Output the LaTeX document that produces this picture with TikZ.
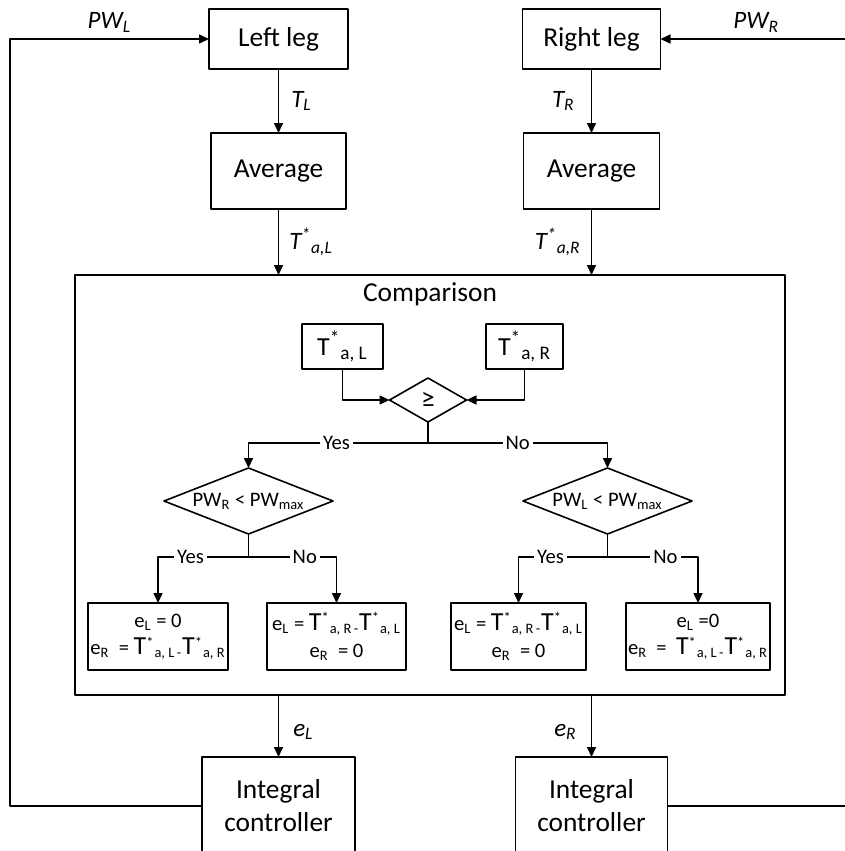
\documentclass[tikz,border=0pt]{standalone}
\usepackage{fontspec}
\setmainfont{Carlito}
\usetikzlibrary{arrows.meta,shapes.geometric}
\newcommand{\Tstar}[1]{{\fontsize{13}{16}\selectfont T}\textsuperscript{*}\textsubscript{#1}}
\newcommand{\sub}[2]{#1\textsubscript{#2}}
\begin{document}
\begin{tikzpicture}[x=.5pt,y=-.5pt,line width=.8pt,line join=round,
	>={Triangle[length=5pt,width=4.5pt]},
	font=\fontsize{13.7}{16.5}\selectfont,
	blok/.style={draw,inner sep=0pt,outer sep=0pt,align=center},
	ruit/.style={draw,diamond,aspect=2.5,inner sep=0pt,outer sep=0pt},
	klein/.style={font=\fontsize{10.3}{13.5}\selectfont},
	lbl/.style={font=\fontsize{12.5}{14}\selectfont\itshape,inner sep=1pt},
	keuze/.style={klein,fill=white,inner sep=1.5pt}]
	\useasboundingbox (0,0) rectangle (845,851);
	\clip (0,0) rectangle (845,851);
	% legs and averaging
	\node[blok,minimum width=69.5pt,minimum height=30pt] (legL) at (278.5,39) {Left leg};
	\node[blok,minimum width=69pt,minimum height=30pt] (legR) at (591.5,39) {Right leg};
	\node[blok,minimum width=67.5pt,minimum height=38pt] (avgL) at (278.5,171) {Average};
	\node[blok,minimum width=68pt,minimum height=38pt] (avgR) at (591.5,171) {Average};
	% comparison block
	\node[blok,minimum width=355pt,minimum height=210pt] (cmp) at (430,485) {};
	\node (cmpT) at (430,294) {Comparison};
	\node[blok,minimum width=40.5pt,minimum height=22.5pt] (tL) at (342.5,346.5) {\Tstar{a, L}};
	\node[blok,minimum width=38.5pt,minimum height=22.5pt] (tR) at (524.5,346.5) {\Tstar{a, R}};
	\node[ruit,minimum width=38.5pt,minimum height=22pt] (geq) at (428,400) {≥};
	\node[ruit,klein,minimum width=84.5pt,minimum height=33pt] (dL) at (248.5,501) {\sub{PW}{R} < \sub{PW}{max}};
	\node[ruit,klein,minimum width=84.5pt,minimum height=33pt] (dR) at (607.5,501) {\sub{PW}{L} < \sub{PW}{max}};
	\node[blok,klein,minimum width=70pt,minimum height=33.5pt] (b1) at (158,636.5)
		{\sub{e}{L} = 0\\\sub{e}{R}\ \ = \Tstar{a, L\,-}\Tstar{a, R}};
	\node[blok,klein,minimum width=69.5pt,minimum height=33.5pt] (b2) at (336.5,636.5)
		{\sub{e}{L} = \Tstar{a, R\,-}\Tstar{a, L}\\\sub{e}{R}\ \ = 0};
	\node[blok,klein,minimum width=67.5pt,minimum height=33.5pt] (b3) at (518.5,636.5)
		{\sub{e}{L} = \Tstar{a, R\,-}\Tstar{a, L}\\\sub{e}{R}\ \ = 0};
	\node[blok,klein,minimum width=72pt,minimum height=33.5pt] (b4) at (698,636.5)
		{\sub{e}{L} =0\\\sub{e}{R}\ \ = \ \Tstar{a, L\,-}\Tstar{a, R}};
	% controllers
	\node[blok,minimum width=76.5pt,minimum height=49pt] (icL) at (278.5,806) {Integral\\controller};
	\node[blok,minimum width=76pt,minimum height=49pt] (icR) at (591.5,806) {Integral\\controller};
	\coordinate (jA) at (428,443);
	\coordinate (jB) at (248.5,557);
	\coordinate (jC) at (607.5,557);
	\coordinate (cL) at (10,39);
	\coordinate (cR) at (852,39);
	
	\draw[->] (legL) -- node[lbl,right=5pt] (TL) {\sub{T}{L}} (avgL);
	\draw[->] (legR) -- node[lbl,left=7pt] (TR) {\sub{T}{R}} (avgR);
	\draw[->] (avgL) -- node[lbl,right=4pt] (TaL) {T\textsuperscript{*}\textsubscript{a,L}} (avgL|-cmp.north);
	\draw[->] (avgR) -- node[lbl,left=4pt] (TaR) {T\textsuperscript{*}\textsubscript{a,R}} (avgR|-cmp.north);
	\draw[->] (tL) |- (geq);
	\draw[->] (tR) |- (geq);
	\draw (geq) -- (jA);
	\draw[->] (jA) -- node[keuze,pos=.51] (yA) {Yes} (jA-|dL) -- (dL);
	\draw[->] (jA) -- node[keuze,pos=.5] (nA) {No} (jA-|dR) -- (dR);
	\draw (dL) -- (jB);
	\draw[->] (jB) -- node[keuze,pos=.64] (yB) {Yes} (jB-|b1) -- (b1);
	\draw[->] (jB) -- node[keuze,pos=.64] (nB) {No} (jB-|b2) -- (b2);
	\draw (dR) -- (jC);
	\draw[->] (jC) -- node[keuze,pos=.64] (yC) {Yes} (jC-|b3) -- (b3);
	\draw[->] (jC) -- node[keuze,pos=.64] (nC) {No} (jC-|b4) -- (b4);
	\draw[->] (icL|-cmp.south) -- node[lbl,right=6pt,yshift=-3pt] (eL) {\sub{e}{L}} (icL);
	\draw[->] (icR|-cmp.south) -- node[lbl,left=6pt,yshift=-3pt] (eR) {\sub{e}{R}} (icR);
	% feedback loops
	\draw[->] (icL.west) -| (cL) -- node[lbl,above=2pt] (PWL) {\sub{PW}{L}} (legL.west);
	\draw[->] (icR.east) -| (cR) -- node[lbl,above=2pt] (PWR) {\sub{PW}{R}} (legR.east);
\end{tikzpicture}
\end{document}
